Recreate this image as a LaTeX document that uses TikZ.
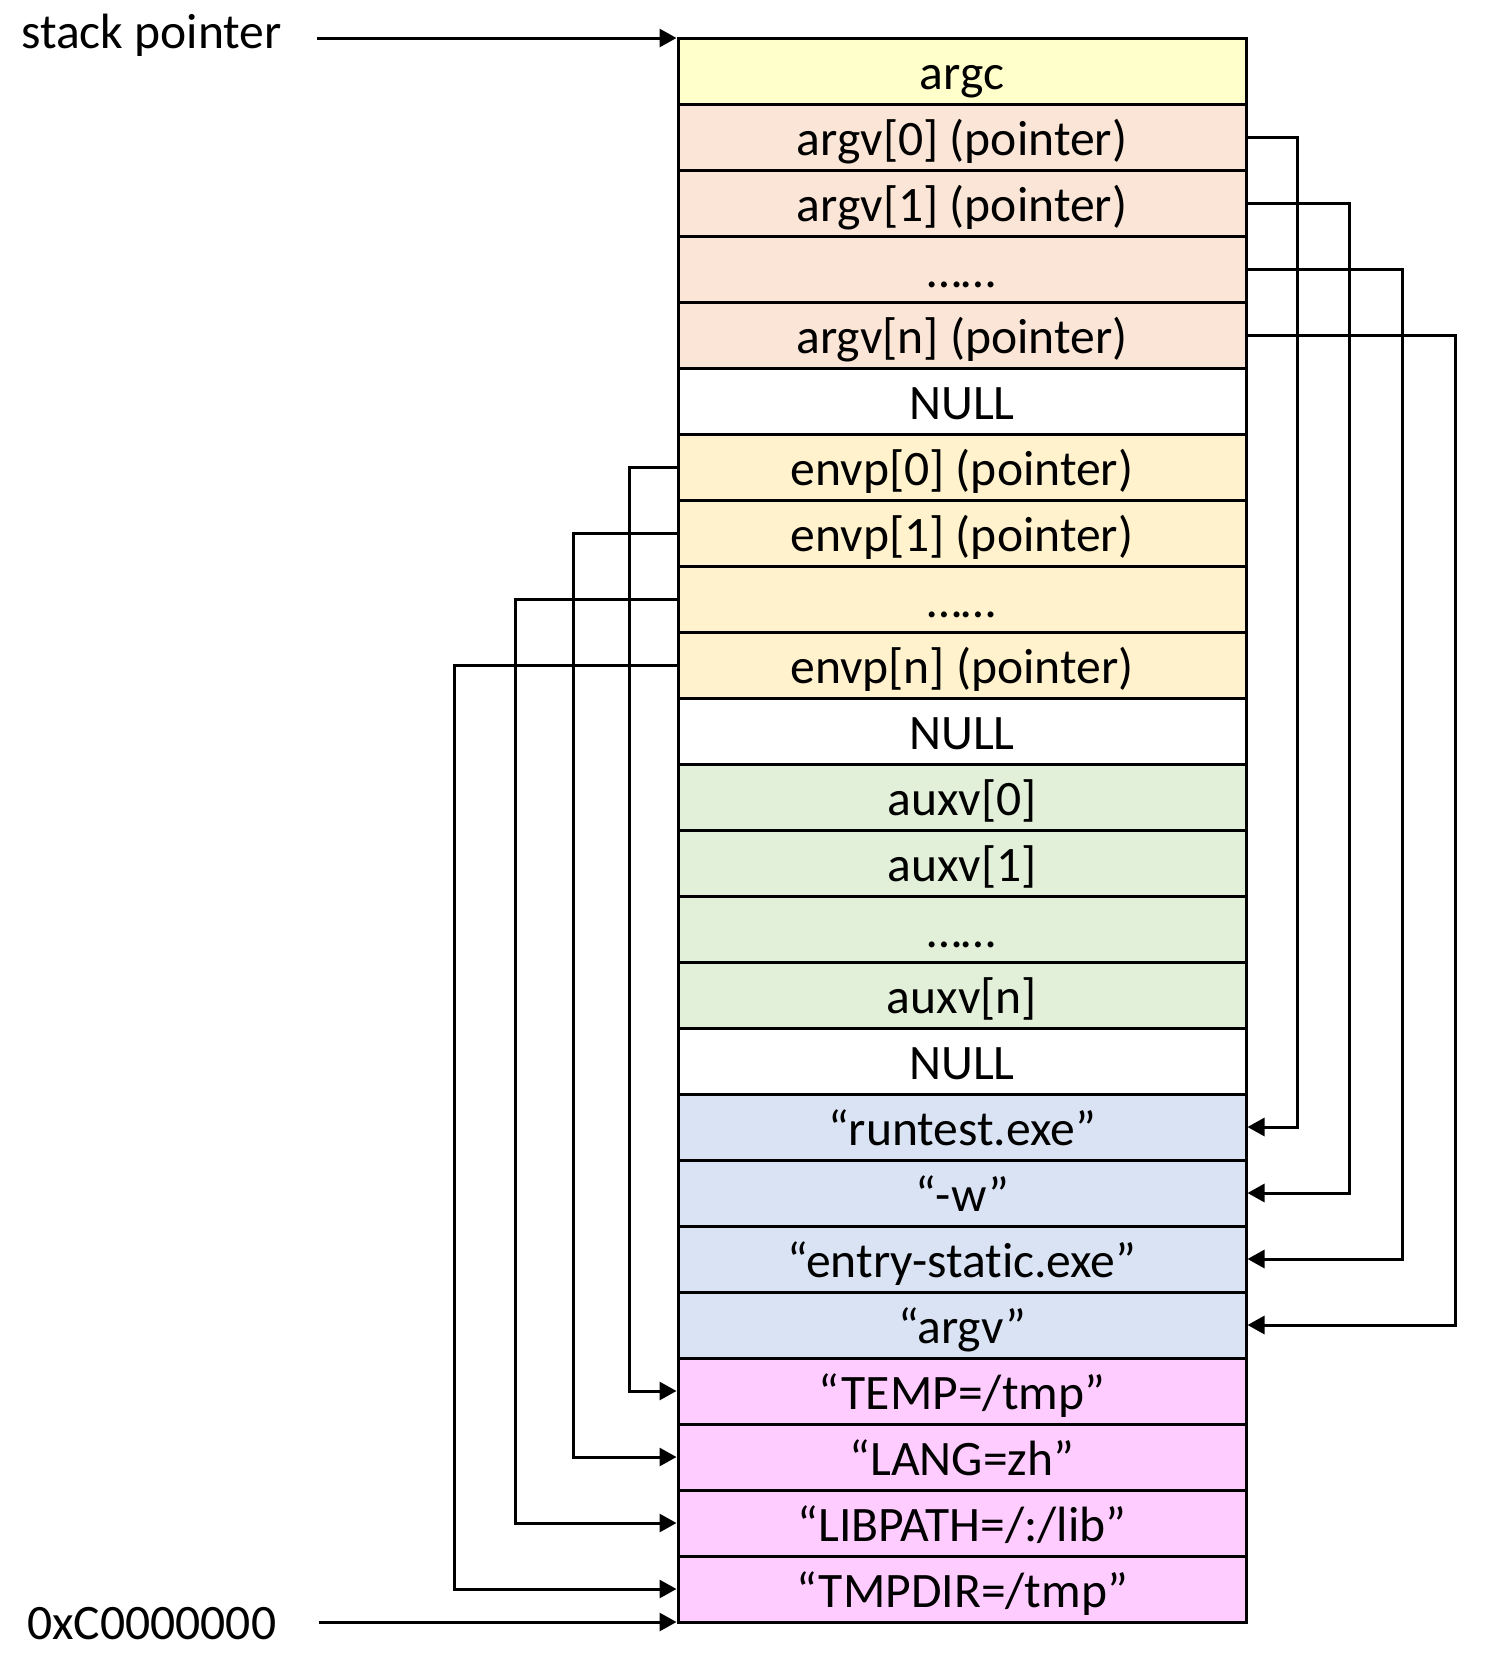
\documentclass[tikz,border=0pt]{standalone}
\usepackage{fontspec}
\setmainfont[Ligatures=NoCommon]{Carlito}
\usetikzlibrary{arrows.meta}
\definecolor{cargc}{HTML}{FFFFCC}
\definecolor{cargv}{HTML}{FBE5D6}
\definecolor{cenvp}{HTML}{FFF2CC}
\definecolor{caux}{HTML}{E2F0D9}
\definecolor{cstr}{HTML}{DAE3F3}
\definecolor{cenv}{HTML}{FFCCFF}
\begin{document}
\begin{tikzpicture}[x=1pt,y=-1pt,
  cell/.style={draw=black, line width=3pt, rectangle, minimum width=568pt, minimum height=66pt,
    inner sep=0pt, text height=36pt, text depth=0pt,
    font=\fontsize{49.6}{60}\selectfont},
  lbl/.style={inner sep=0pt, font=\fontsize{49.6}{60}\selectfont},
  link/.style={draw=black, line width=3pt, -{Triangle[length=17pt,width=18pt]}}]
\useasboundingbox (0,0) rectangle (1490,1666);
\node[cell, fill=cargc] (r0) at (962,71) {argc};
\node[cell, fill=cargv] (r1) at (962,137) {argv[0] (pointer)};
\node[cell, fill=cargv] (r2) at (962,203) {argv[1] (pointer)};
\node[cell, fill=cargv] (r3) at (962,269) {……};
\node[cell, fill=cargv] (r4) at (962,335) {argv[n] (pointer)};
\node[cell, fill=white] (r5) at (962,401) {NULL};
\node[cell, fill=cenvp] (r6) at (962,467) {envp[0] (pointer)};
\node[cell, fill=cenvp] (r7) at (962,533) {envp[1] (pointer)};
\node[cell, fill=cenvp] (r8) at (962,599) {……};
\node[cell, fill=cenvp] (r9) at (962,665) {envp[n] (pointer)};
\node[cell, fill=white] (r10) at (962,731) {NULL};
\node[cell, fill=caux] (r11) at (962,797) {auxv[0]};
\node[cell, fill=caux] (r12) at (962,863) {auxv[1]};
\node[cell, fill=caux] (r13) at (962,929) {……};
\node[cell, fill=caux] (r14) at (962,995) {auxv[n]};
\node[cell, fill=white] (r15) at (962,1061) {NULL};
\node[cell, fill=cstr] (r16) at (962,1127) {“runtest.exe”};
\node[cell, fill=cstr] (r17) at (962,1193) {“-w”};
\node[cell, fill=cstr] (r18) at (962,1259) {“entry-static.exe”};
\node[cell, fill=cstr] (r19) at (962,1325) {“argv”};
\node[cell, fill=cenv] (r20) at (962,1391) {“TEMP=/tmp”};
\node[cell, fill=cenv] (r21) at (962,1457) {“LANG=zh”};
\node[cell, fill=cenv] (r22) at (962,1523) {“LIBPATH=/:/lib”};
\node[cell, fill=cenv] (r23) at (962,1589) {“TMPDIR=/tmp”};
% right-side connectors (argv pointers)
\draw[link] (r1.east) -- ++(50,0) |- (r16.east);
\draw[link] (r2.east) -- ++(102,0) |- (r17.east);
\draw[link] (r3.east) -- ++(155,0) |- (r18.east);
\draw[link] (r4.east) -- ++(208,0) |- (r19.east);
% left-side connectors (envp pointers)
\draw[link] (r6.west) -- ++(-47,0) |- (r20.west);
\draw[link] (r7.west) -- ++(-103,0) |- (r21.west);
\draw[link] (r8.west) -- ++(-161,0) |- (r22.west);
\draw[link] (r9.west) -- ++(-222,0) |- (r23.west);
% labels
\node[lbl, anchor=base west] (sp) at (21,48) {stack pointer};
\node[lbl, anchor=base west] (addr) at (27,1639) {0xC0000000};
\coordinate (spstart) at (317,38);
\coordinate (adstart) at (319,1622);
\draw[link] (spstart) -- (spstart -| r0.west);
\draw[link] (adstart) -- (adstart -| r23.west);
\end{tikzpicture}
\end{document}
